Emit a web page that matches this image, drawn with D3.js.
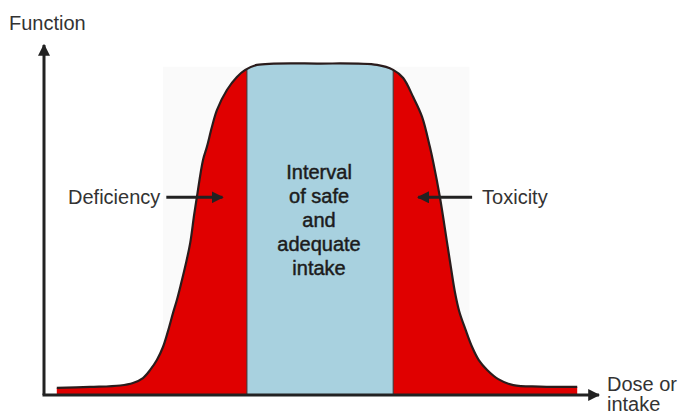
<!DOCTYPE html>
<html lang="en">
<head>
<meta charset="UTF-8">
<title>Dose response</title>
<script src="https://d3js.org/d3.v7.min.js"></script>
<style>
  body { margin: 0; background: #fff; }
  svg { display: block; font-family: "Liberation Sans", Arial, sans-serif; }
  .label { font-size: 20px; fill: #333; }
  .inner { font-size: 20px; fill: #1c1c1c; stroke: #1c1c1c; stroke-width: 0.45px; text-anchor: middle; }
</style>
</head>
<body>
<svg width="683" height="414"></svg>
<script>
// dose (0-100) vs function (0-100)
const dose = [2.3, 8.3, 13.7, 16.0, 17.8, 19.1, 20.3, 21.4, 22.3, 23.2, 23.9, 24.6, 25.5, 26.3, 27.0, 27.5, 28.6, 29.3, 30.2, 31.1, 32.9, 34.7, 36.2, 38.3, 49.6,
              59.9, 62.8, 64.6, 66.4, 68.0, 69.4, 70.0, 71.2, 72.5, 73.2, 73.9, 74.7, 75.8, 77.0, 78.2, 79.7, 81.7, 84.4, 89.2, 95.9];
const response = [2.0, 2.3, 2.7, 3.4, 4.8, 7.1, 9.9, 13.6, 18.1, 23.2, 26.9, 31.2, 37.1, 43.1, 51.0, 56.1, 66.6, 70.3, 75.9, 80.7, 86.4, 90.1, 92.1, 93.5, 93.9,
                  93.5, 92.1, 89.8, 84.4, 78.8, 70.3, 66.0, 56.1, 43.1, 36.0, 29.2, 23.6, 18.6, 13.6, 9.9, 7.1, 4.5, 2.8, 2.4, 2.3];
const safeRange = [36.5, 62.8];
const innerLines = ["Interval", "of safe", "and", "adequate", "intake"];
const deficiencyArrow = [22.0, 32.1];
const toxicityArrow = [77.0, 67.3];
const arrowLevel = 56;

const svg = d3.select("svg");
const x = d3.scaleLinear().domain([0, 100]).range([44, 600]);
const y = d3.scaleLinear().domain([0, 100]).range([395, 42]);

const pts = dose.map((d, i) => [d, response[i]]);

// faint scanned page behind the curve
svg.append("rect")
  .attr("x", x(21.4)).attr("y", y(93)).attr("width", x(76.5) - x(21.4)).attr("height", y(3) - y(93))
  .attr("fill", "#fafafa");

const area = d3.area()
  .x(d => x(d[0]))
  .y0(y(0))
  .y1(d => y(d[1]))
  .curve(d3.curveCatmullRom);

const line = d3.line()
  .x(d => x(d[0]))
  .y(d => y(d[1]))
  .curve(d3.curveCatmullRom);

const defs = svg.append("defs");
defs.append("clipPath").attr("id", "under")
  .append("path").attr("d", area(pts));

defs.append("marker").attr("id", "head")
  .attr("viewBox", "0 0 10 10").attr("refX", 9).attr("refY", 5)
  .attr("markerWidth", 4).attr("markerHeight", 4).attr("orient", "auto")
  .append("path").attr("d", "M0,0L10,5L0,10Z").attr("fill", "#222");

svg.append("path")
  .attr("d", area(pts))
  .attr("fill", "#e00000");

svg.append("rect")
  .attr("clip-path", "url(#under)")
  .attr("x", x(safeRange[0])).attr("y", y(100))
  .attr("width", x(safeRange[1]) - x(safeRange[0]))
  .attr("height", y(0) - y(100))
  .attr("fill", "#a8d1df");

svg.selectAll(".edge")
  .data(safeRange)
  .enter().append("line")
  .attr("class", "edge")
  .attr("clip-path", "url(#under)")
  .attr("x1", d => x(d)).attr("x2", d => x(d))
  .attr("y1", y(100)).attr("y2", y(0))
  .attr("stroke", "#3a3a3a").attr("stroke-width", 1);

svg.append("path")
  .attr("d", line(pts))
  .attr("fill", "none")
  .attr("stroke", "#2a1c1c")
  .attr("stroke-width", 2.2);

// axes
svg.append("line")
  .attr("x1", x(0)).attr("y1", y(0)).attr("x2", x(0)).attr("y2", y(100) + 3)
  .attr("stroke", "#222").attr("stroke-width", 3)
  .attr("marker-end", "url(#head)");
svg.append("line")
  .attr("x1", x(0) - 1.5).attr("y1", y(0)).attr("x2", x(100) - 1).attr("y2", y(0))
  .attr("stroke", "#222").attr("stroke-width", 3)
  .attr("marker-end", "url(#head)");

svg.append("text").attr("class", "label")
  .attr("x", 9).attr("y", 30).text("Function");
svg.append("text").attr("class", "label")
  .attr("x", 607).attr("y", 391).text("Dose or");
svg.append("text").attr("class", "label")
  .attr("x", 607).attr("y", 411).text("intake");

// pointer arrows
svg.append("line")
  .attr("x1", x(deficiencyArrow[0])).attr("x2", x(deficiencyArrow[1]))
  .attr("y1", y(arrowLevel)).attr("y2", y(arrowLevel))
  .attr("stroke", "#222").attr("stroke-width", 3)
  .attr("marker-end", "url(#head)");
svg.append("line")
  .attr("x1", x(toxicityArrow[0])).attr("x2", x(toxicityArrow[1]))
  .attr("y1", y(arrowLevel)).attr("y2", y(arrowLevel))
  .attr("stroke", "#222").attr("stroke-width", 3)
  .attr("marker-end", "url(#head)");

svg.append("text").attr("class", "label")
  .attr("x", x(deficiencyArrow[0]) - 6).attr("y", y(arrowLevel))
  .attr("dy", "0.35em").attr("text-anchor", "end").text("Deficiency");
svg.append("text").attr("class", "label")
  .attr("x", x(toxicityArrow[0]) + 10).attr("y", y(arrowLevel))
  .attr("dy", "0.35em").text("Toxicity");

const mid = (x(safeRange[0]) + x(safeRange[1])) / 2;
svg.selectAll(".inner")
  .data(innerLines)
  .enter().append("text")
  .attr("class", "inner")
  .attr("x", mid - 1)
  .attr("y", (d, i) => 172 + i * 24)
  .attr("dy", "0.35em")
  .text(d => d);
</script>
</body>
</html>
